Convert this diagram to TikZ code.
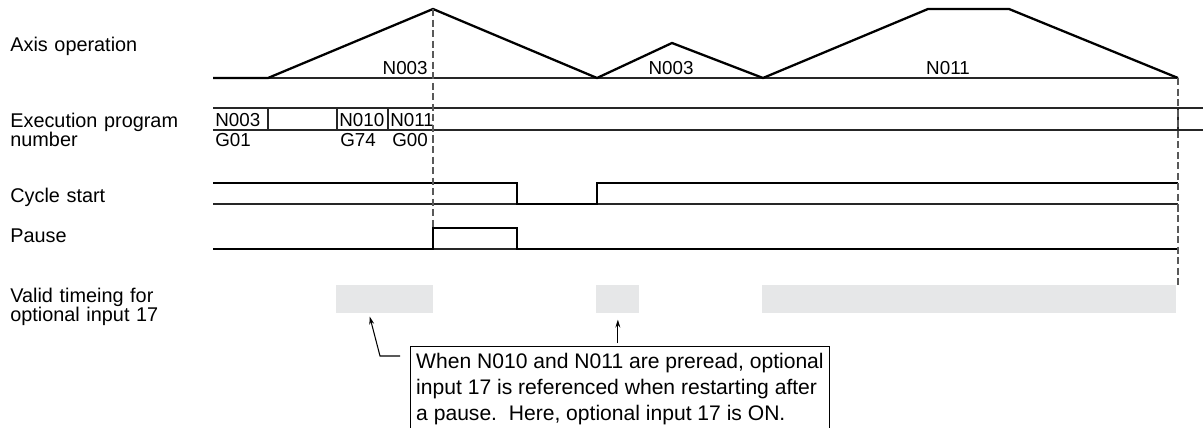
\documentclass[tikz,border=0pt]{standalone}
\usepackage{fontspec}
\setmainfont{Liberation Sans}
\usetikzlibrary{arrows.meta,positioning,calc}

\definecolor{validgray}{RGB}{230,231,232}

\begin{document}
\begin{tikzpicture}[
    x=0.02cm, y=-0.02cm,
    rowlabel/.style={anchor=base west, inner sep=0pt, text width=5cm, align=left, font=\fontsize{11.3}{10.8}\selectfont},
    prog/.style={anchor=base west, inner sep=0pt, font=\fontsize{10.7}{12}\selectfont},
    refline/.style={line width=0.6pt, black!85},
    signal/.style={line width=1.3pt, line join=miter},
    guide/.style={line width=0.7pt, black!65, dash pattern=on 4pt off 2pt},
    validbox/.style={fill=validgray, anchor=north west, inner sep=0pt, minimum height=0.56cm},
    notebox/.style={draw, line width=0.6pt, anchor=north west, align=left, minimum width=8.38cm, inner xsep=0.06cm, inner ysep=3.7pt, font=\fontsize{12}{14.74}\selectfont},
    pointer/.style={line width=0.6pt, -{Stealth[length=4.5pt,width=2.8pt]}}
]
\useasboundingbox (0,0) rectangle (1203,428);

% Row labels
\node[rowlabel] (axisLabel) at (10,52) {Axis operation};
\node[rowlabel] (progLabel) at (10,128) {Execution program\\number};
\node[rowlabel] (cycleLabel) at (10,203) {Cycle start};
\node[rowlabel] (pauseLabel) at (10,243) {Pause};
\node[rowlabel] (validLabel) at (10,303) {Valid timeing for\\optional input 17};

% Valid timing windows
\node[validbox, minimum width=1.94cm] (valid1) at (336,285) {};
\node[validbox, minimum width=0.86cm] (valid2) at (596,285) {};
\node[validbox, minimum width=8.28cm] (valid3) at (762,285) {};

% Axis operation
\draw[refline] (268,78) -- (1178,78);
\draw[signal] (213,78) -- (268,78) -- (433,9) -- (597,78) -- (672,43) -- (763,78) -- (928,9) -- (1009,9) -- (1178,78);
\node[prog, anchor=base east] (axisBlockA) at (428,75) {N003};
\node[prog, anchor=base] (axisBlockB) at (671,75) {N003};
\node[prog, anchor=base] (axisBlockC) at (948,75) {N011};

% Execution program number
\draw[refline] (213,108) -- (1203,108);
\draw[refline] (213,130) -- (1203,130);
\foreach \x in {268,337,388,1178}
    \draw[refline] (\x,108) -- (\x,130);
\node[prog] (progN003) at (215,126.5) {N003};
\node[prog] (progN010) at (339,126.5) {N010};
\node[prog] (progN011) at (390,126.5) {N011};
\node[prog] (progG01) at (215,147) {G01};
\node[prog] (progG74) at (340,147) {G74};
\node[prog] (progG00) at (392,147) {G00};

% Cycle start
\draw[refline] (213,204) -- (1178,204);
\draw[signal] (213,183) -- (517,183) -- (517,204) -- (597,204) -- (597,183) -- (1178,183);

% Pause
\draw[refline] (213,249) -- (1178,249);
\draw[signal] (213,249) -- (433,249) -- (433,228) -- (517,228) -- (517,249) -- (1178,249);

% Guides
\draw[guide] (433,9) -- (433,228);
\draw[guide] (1178,78) -- (1178,287);

% Note
\node[notebox] (note) at (410,346) {When N010 and N011 are preread, optional\\input 17 is referenced when restarting after\\a pause.\ \ Here, optional input 17 is ON.};
\coordinate (lead1) at (400,356);
\coordinate (bend1) at (380,356);
\draw[pointer, shorten >=1.7pt] (lead1) -- (bend1) -- ($(valid1.south west)+(33,0)$);
\draw[pointer, shorten >=3.4pt, shorten <=1.7pt] (note.north -| valid2.south) -- (valid2.south);

\end{tikzpicture}
\end{document}
